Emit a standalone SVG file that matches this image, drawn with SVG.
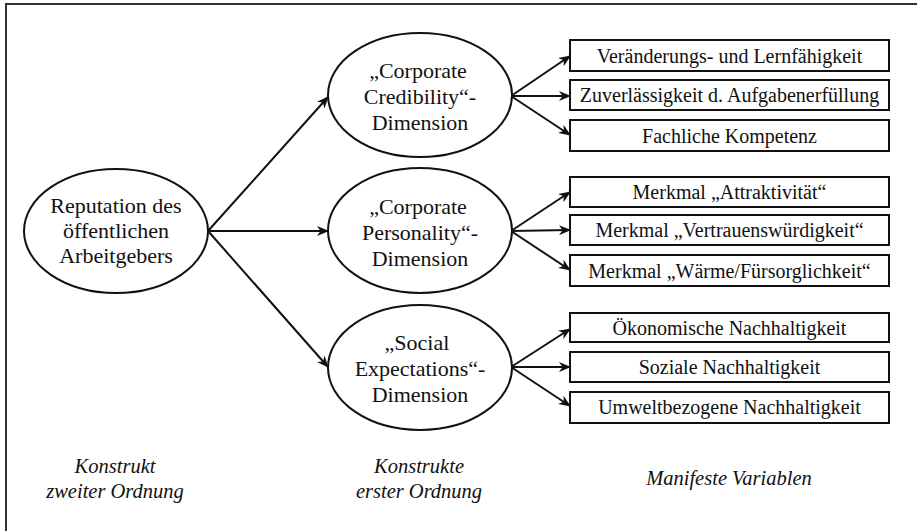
<svg xmlns="http://www.w3.org/2000/svg" width="917" height="531" viewBox="0 0 917 531">
<defs>
<style>
text{font-family:'Liberation Serif', Tinos, 'Times New Roman', Times, 'Noto Serif', 'DejaVu Serif', FreeSerif, serif;fill:#111;text-anchor:middle}
.e{font-size:22px}
.b{font-size:20px}
.i{font-size:20.5px;font-style:italic}
ellipse{fill:#fff;stroke:#111;stroke-width:2}
rect.n{fill:#fff;stroke:#111;stroke-width:2}
.c line{stroke:#111;stroke-width:2;marker-end:url(#ah)}
</style>
<marker id="ah" viewBox="0 0 12 10" refX="11" refY="5" markerWidth="12" markerHeight="10" markerUnits="userSpaceOnUse" orient="auto">
<path d="M0,0 L12,5 L0,10 L3.5,5 z" fill="#111"/>
</marker>
</defs>
<rect width="917" height="531" fill="#fff"/>
<path d="M6,531 V4 H917" fill="none" stroke="#333" stroke-width="2"/>
<g id="connectors" class="c">
<line x1="208" y1="231" x2="328" y2="97"/>
<line x1="208" y1="231" x2="328" y2="231"/>
<line x1="208" y1="231" x2="328" y2="367"/>
<line x1="511" y1="96" x2="570" y2="56"/>
<line x1="511" y1="96" x2="570" y2="96"/>
<line x1="511" y1="96" x2="570" y2="135"/>
<line x1="511" y1="231" x2="570" y2="192"/>
<line x1="511" y1="231" x2="570" y2="230"/>
<line x1="511" y1="231" x2="570" y2="270"/>
<line x1="511" y1="367" x2="570" y2="329"/>
<line x1="511" y1="367" x2="570" y2="367"/>
<line x1="511" y1="367" x2="570" y2="406"/>
</g>
<g id="reputation">
<ellipse cx="116" cy="231" rx="92" ry="62"/>
<text class="e" x="116" y="213">Reputation des</text>
<text class="e" x="116" y="238">öffentlichen</text>
<text class="e" x="116" y="263">Arbeitgebers</text>
</g>
<g id="credibility">
<ellipse cx="420" cy="95" rx="92" ry="62"/>
<text class="e" x="418" y="78">„Corporate</text>
<text class="e" x="420" y="104">Credibility“-</text>
<text class="e" x="420" y="130">Dimension</text>
</g>
<g id="personality">
<ellipse cx="420" cy="230.5" rx="92" ry="62.5"/>
<text class="e" x="418" y="214">„Corporate</text>
<text class="e" x="420" y="240">Personality“-</text>
<text class="e" x="420" y="266">Dimension</text>
</g>
<g id="social">
<ellipse cx="420" cy="367.5" rx="92" ry="62.5"/>
<text class="e" x="417" y="350">„Social</text>
<text class="e" x="420" y="376">Expectations“-</text>
<text class="e" x="420" y="402">Dimension</text>
</g>
<g id="m1"><rect class="n" x="570" y="40" width="319" height="31"/><text class="b" x="729.5" y="63">Veränderungs- und Lernfähigkeit</text></g>
<g id="m2"><rect class="n" x="570" y="80" width="319" height="30"/><text class="b" x="729.5" y="102">Zuverlässigkeit d. Aufgabenerfüllung</text></g>
<g id="m3"><rect class="n" x="570" y="120" width="319" height="31"/><text class="b" x="729.5" y="143">Fachliche Kompetenz</text></g>
<g id="m4"><rect class="n" x="570" y="177" width="319" height="30"/><text class="b" x="729.5" y="199">Merkmal „Attraktivität“</text></g>
<g id="m5"><rect class="n" x="570" y="215" width="319" height="30"/><text class="b" x="729.5" y="237">Merkmal „Vertrauenswürdigkeit“</text></g>
<g id="m6"><rect class="n" x="570" y="255" width="319" height="31"/><text class="b" x="729.5" y="278">Merkmal „Wärme/Fürsorglichkeit“</text></g>
<g id="m7"><rect class="n" x="570" y="313" width="319" height="29"/><text class="b" x="729.5" y="335">Ökonomische Nachhaltigkeit</text></g>
<g id="m8"><rect class="n" x="570" y="352" width="319" height="30"/><text class="b" x="729.5" y="374">Soziale Nachhaltigkeit</text></g>
<g id="m9"><rect class="n" x="570" y="392" width="319" height="31"/><text class="b" x="729.5" y="414">Umweltbezogene Nachhaltigkeit</text></g>
<g id="labels">
<text class="i" x="115" y="473">Konstrukt</text>
<text class="i" x="115" y="498">zweiter Ordnung</text>
<text class="i" x="419" y="473">Konstrukte</text>
<text class="i" x="419" y="498">erster Ordnung</text>
<text class="i" x="729" y="485">Manifeste Variablen</text>
</g>
</svg>
